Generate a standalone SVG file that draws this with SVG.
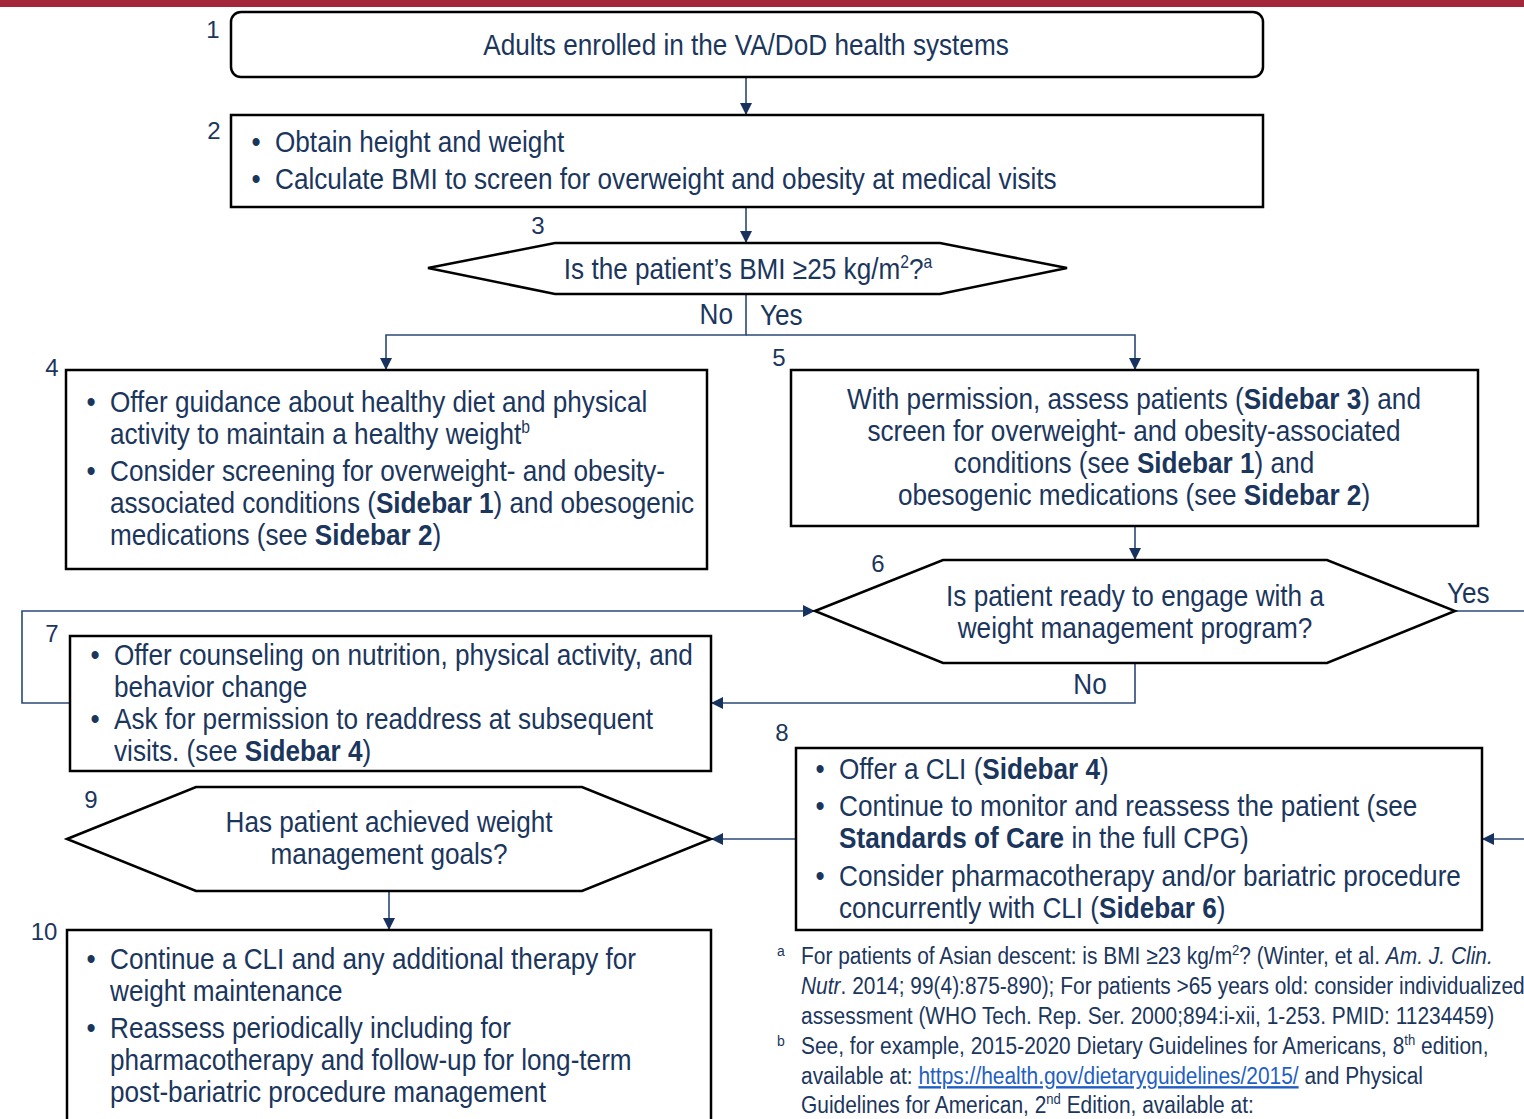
<svg xmlns="http://www.w3.org/2000/svg" width="1524" height="1119" viewBox="0 0 1524 1119">
<style>
.t{font-family:"Liberation Sans",Arial,sans-serif;font-size:30px;fill:#1b365d}
.n{font-family:"Liberation Sans",Arial,sans-serif;font-size:24px;fill:#1b365d;text-anchor:middle}
.f{font-family:"Liberation Sans",Arial,sans-serif;font-size:24px;fill:#1b365d}
.fm{font-family:"Liberation Sans",Arial,sans-serif;font-size:14px;fill:#1b365d;text-anchor:middle}
.c{text-anchor:middle}
.b{font-weight:bold}
.box{fill:#fff;stroke:#000;stroke-width:2.5}
.con{fill:none;stroke:#2b4878;stroke-width:1.6}
.arr{marker-end:url(#ah)}
</style>
<defs>
<marker id="ah" markerUnits="userSpaceOnUse" viewBox="0 0 12 12" refX="12" refY="6" markerWidth="12" markerHeight="12" orient="auto">
<path d="M0,0 L12,6 L0,12 z" fill="#17325f"/>
</marker>
</defs>
<rect x="0" y="0" width="1524" height="7" fill="#a3263a"/>

<g id="connectors">
<path class="con arr" d="M746,77 V115"/>
<path class="con arr" d="M746,207 V243"/>
<path class="con arr" d="M746,294 V335 H386 V370"/>
<path class="con arr" d="M746,335 H1135 V370"/>
<path class="con arr" d="M1135,526 V560"/>
<path class="con" d="M1455,611 H1524"/>
<path class="con arr" d="M1135,663 V703 H711"/>
<path class="con arr" d="M70,703 H22 V611 H815"/>
<path class="con arr" d="M1524,839 H1482"/>
<path class="con arr" d="M796,839 H711"/>
<path class="con arr" d="M389,891 V930"/>
<g transform="translate(733,0) scale(.872,1)"><text class="t" x="0" y="324" text-anchor="end">No</text></g>
<g transform="translate(760,0) scale(.872,1)"><text class="t" x="0" y="325">Yes</text></g>
<g transform="translate(1447,0) scale(.872,1)"><text class="t" x="0" y="603">Yes</text></g>
<g transform="translate(1090,0) scale(.872,1)"><text class="t c" x="0" y="694">No</text></g>
</g>

<g id="node1">
<rect class="box" x="231" y="12" width="1032" height="65" rx="10"/>
<text class="n" x="213" y="38">1</text>
<g transform="translate(746,0) scale(.872,1)"><text class="t c" x="0" y="55">Adults enrolled in the VA/DoD health systems</text></g>
</g>

<g id="node2">
<rect class="box" x="231" y="115" width="1032" height="92"/>
<text class="n" x="214" y="139">2</text>
<g transform="translate(275,0) scale(.872,1)">
<text class="t" x="-27" y="152">•</text><text class="t" x="0" y="152">Obtain height and weight</text>
<text class="t" x="-27" y="189">•</text><text class="t" x="0" y="189">Calculate BMI to screen for overweight and obesity at medical visits</text>
</g>
</g>

<g id="node3">
<polygon class="box" points="428,268 555,243 940,243 1067,268 940,294 555,294"/>
<text class="n" x="538" y="234">3</text>
<g transform="translate(748,0) scale(.872,1)"><text class="t c" x="0" y="279">Is the patient’s BMI ≥25 kg/m<tspan font-size="18" dy="-11">2</tspan><tspan dy="11">?</tspan><tspan font-size="18" dy="-11">a</tspan></text></g>
</g>

<g id="node4">
<rect class="box" x="66" y="370" width="641" height="199"/>
<text class="n" x="52" y="376">4</text>
<g transform="translate(110,0) scale(.872,1)">
<text class="t" x="-27" y="412">•</text><text class="t" x="0" y="412">Offer guidance about healthy diet and physical</text>
<text class="t" x="0" y="444">activity to maintain a healthy weight<tspan font-size="18" dy="-11">b</tspan></text>
<text class="t" x="-27" y="481">•</text><text class="t" x="0" y="481">Consider screening for overweight- and obesity-</text>
<text class="t" x="0" y="513">associated conditions (<tspan class="b">Sidebar 1</tspan>) and obesogenic</text>
<text class="t" x="0" y="545">medications (see <tspan class="b">Sidebar 2</tspan>)</text>
</g>
</g>

<g id="node5">
<rect class="box" x="791" y="370" width="687" height="156"/>
<text class="n" x="779" y="366">5</text>
<g transform="translate(1134,0) scale(.872,1)">
<text class="t c" x="0" y="409">With permission, assess patients (<tspan class="b">Sidebar 3</tspan>) and</text>
<text class="t c" x="0" y="441">screen for overweight- and obesity-associated</text>
<text class="t c" x="0" y="473">conditions (see <tspan class="b">Sidebar 1</tspan>) and</text>
<text class="t c" x="0" y="505">obesogenic medications (see <tspan class="b">Sidebar 2</tspan>)</text>
</g>
</g>

<g id="node6">
<polygon class="box" points="815,611 943,560 1327,560 1455,611 1327,663 943,663"/>
<text class="n" x="878" y="572">6</text>
<g transform="translate(1135,0) scale(.872,1)">
<text class="t c" x="0" y="606">Is patient ready to engage with a</text>
<text class="t c" x="0" y="638">weight management program?</text>
</g>
</g>

<g id="node7">
<rect class="box" x="70" y="636" width="641" height="135"/>
<text class="n" x="52" y="642">7</text>
<g transform="translate(114,0) scale(.872,1)">
<text class="t" x="-27" y="665">•</text><text class="t" x="0" y="665">Offer counseling on nutrition, physical activity, and</text>
<text class="t" x="0" y="697">behavior change</text>
<text class="t" x="-27" y="729">•</text><text class="t" x="0" y="729">Ask for permission to readdress at subsequent</text>
<text class="t" x="0" y="761">visits. (see <tspan class="b">Sidebar 4</tspan>)</text>
</g>
</g>

<g id="node8">
<rect class="box" x="796" y="748" width="686" height="182"/>
<text class="n" x="782" y="741">8</text>
<g transform="translate(839,0) scale(.872,1)">
<text class="t" x="-27" y="779">•</text><text class="t" x="0" y="779">Offer a CLI (<tspan class="b">Sidebar 4</tspan>)</text>
<text class="t" x="-27" y="816">•</text><text class="t" x="0" y="816">Continue to monitor and reassess the patient (see</text>
<text class="t" x="0" y="848"><tspan class="b">Standards of Care</tspan> in the full CPG)</text>
<text class="t" x="-27" y="886">•</text><text class="t" x="0" y="886">Consider pharmacotherapy and/or bariatric procedure</text>
<text class="t" x="0" y="918">concurrently with CLI (<tspan class="b">Sidebar 6</tspan>)</text>
</g>
</g>

<g id="node9">
<polygon class="box" points="67,839 196,787 582,787 711,839 582,891 196,891"/>
<text class="n" x="91" y="808">9</text>
<g transform="translate(389,0) scale(.872,1)">
<text class="t c" x="0" y="832">Has patient achieved weight</text>
<text class="t c" x="0" y="864">management goals?</text>
</g>
</g>

<g id="node10">
<rect class="box" x="67" y="930" width="644" height="200"/>
<text class="n" x="44" y="940">10</text>
<g transform="translate(110,0) scale(.872,1)">
<text class="t" x="-27" y="969">•</text><text class="t" x="0" y="969">Continue a CLI and any additional therapy for</text>
<text class="t" x="0" y="1001">weight maintenance</text>
<text class="t" x="-27" y="1038">•</text><text class="t" x="0" y="1038">Reassess periodically including for</text>
<text class="t" x="0" y="1070">pharmacotherapy and follow-up for long-term</text>
<text class="t" x="0" y="1102">post-bariatric procedure management</text>
</g>
</g>

<g id="footnotes">
<text class="fm" x="781" y="956">a</text>
<text class="fm" x="781" y="1046">b</text>
<g transform="translate(801,0) scale(.872,1)">
<text class="f" x="0" y="964">For patients of Asian descent: is BMI ≥23 kg/m<tspan font-size="15" dy="-9">2</tspan><tspan dy="9">? (Winter, et al. </tspan><tspan font-style="italic">Am. J. Clin.</tspan></text>
<text class="f" x="0" y="994"><tspan font-style="italic">Nutr</tspan>. 2014; 99(4):875-890); For patients &gt;65 years old: consider individualized</text>
<text class="f" x="0" y="1024">assessment (WHO Tech. Rep. Ser. 2000;894:i-xii, 1-253. PMID: 11234459)</text>
<text class="f" x="0" y="1054">See, for example, 2015-2020 Dietary Guidelines for Americans, 8<tspan font-size="15" dy="-9">th</tspan><tspan dy="9"> edition,</tspan></text>
<text class="f" x="0" y="1084">available at: <tspan fill="#1f5fc4" text-decoration="underline">https://health.gov/dietaryguidelines/2015/</tspan> and Physical</text>
<text class="f" x="0" y="1113">Guidelines for American, 2<tspan font-size="15" dy="-9">nd</tspan><tspan dy="9"> Edition, available at:</tspan></text>
</g>
</g>
</svg>
